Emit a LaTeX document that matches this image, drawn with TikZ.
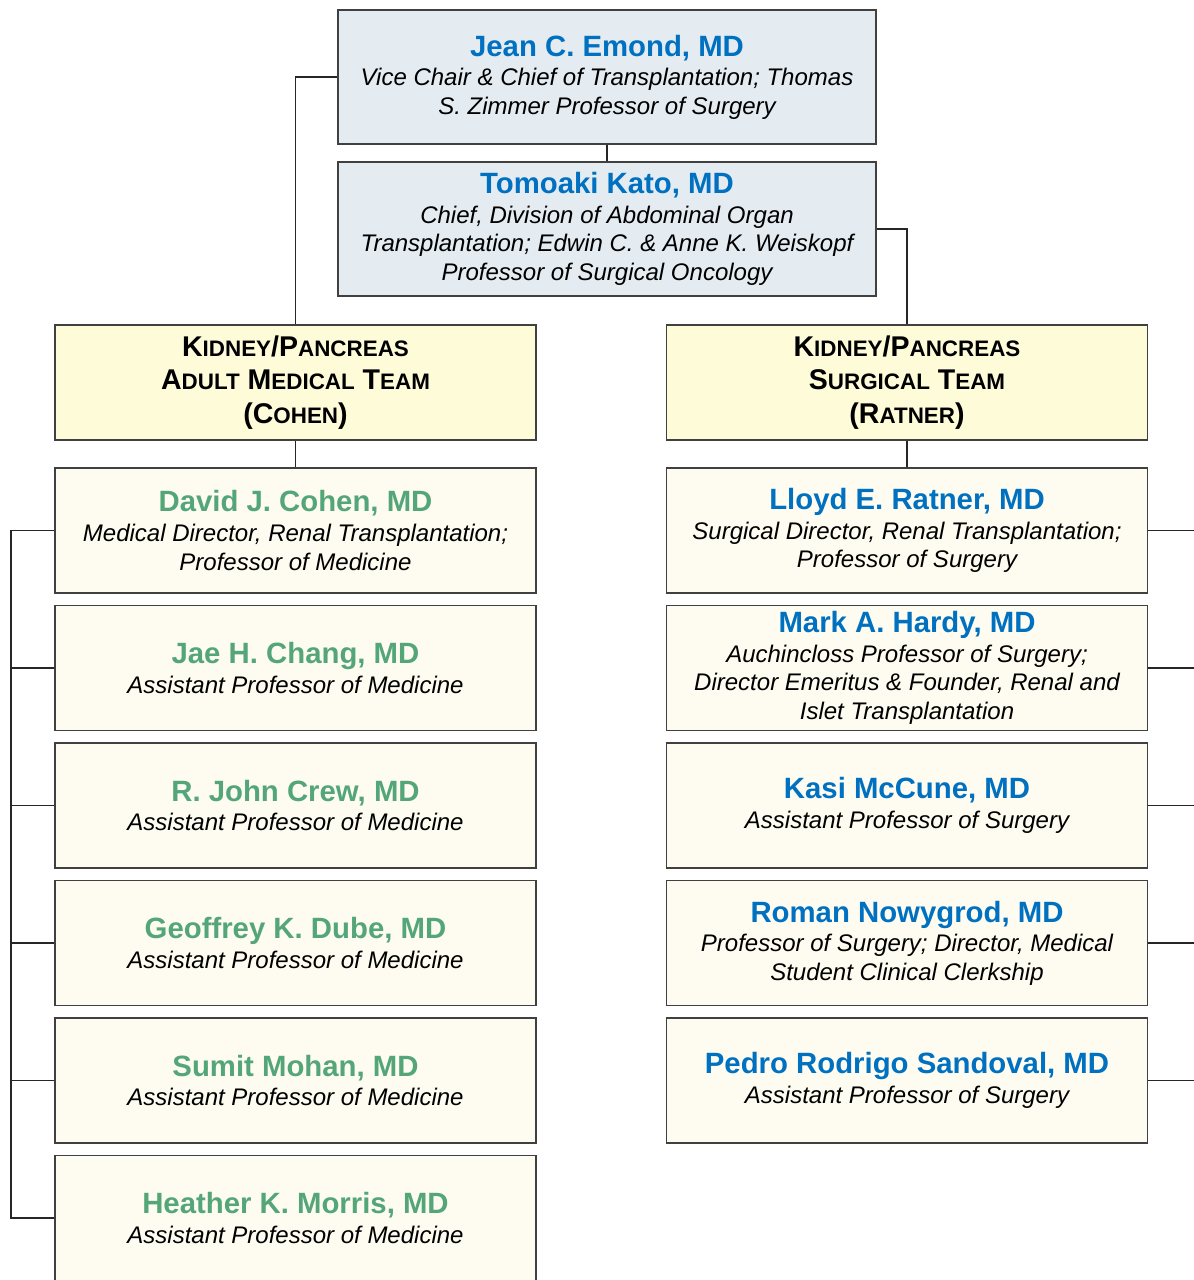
\documentclass[tikz,border=0pt]{standalone}
\usepackage{fontspec}
\setmainfont{Liberation Sans}
\usepackage{xcolor}
\usepackage{tikz}
\usetikzlibrary{chains}
\definecolor{nameblue}{RGB}{0,112,192}
\definecolor{namegreen}{RGB}{84,166,120}
\definecolor{chieffill}{RGB}{228,236,242}
\definecolor{teamfill}{RGB}{254,251,216}
\definecolor{memberfill}{RGB}{254,252,240}
\newcommand\namefont{\fontsize{22}{26}\selectfont\bfseries\upshape}
\newcommand\rolefont{\fontsize{18}{21.4}\selectfont\itshape}
\newcommand\sct[1]{{\fontsize{16.8}{25}\selectfont #1}}
\tikzset{
  chiefbox/.style={
    rectangle,
    fill=chieffill,
    draw=black!75, line width=0.8pt,
    minimum width=403.5pt,
    minimum height=100.5pt,
    inner sep=2pt,
    align=center,
    font=\rolefont},
  teambox/.style={
    rectangle,
    fill=teamfill,
    draw=black!75, line width=0.8pt,
    minimum width=360.75pt,
    minimum height=86.25pt,
    inner sep=2pt,
    align=center,
    font=\fontsize{21.4}{25}\selectfont\bfseries},
  member/.style={
    rectangle,
    fill=memberfill,
    draw=black!75, line width=0.8pt,
    minimum width=360.75pt,
    minimum height=93.75pt,
    inner sep=2pt,
    align=center,
    font=\rolefont,
    on chain},
  line/.style={draw, line width=0.8pt, black!85},
}

\begin{document}
\begin{tikzpicture}[x=0.75pt, y=-0.75pt, node distance=8.575pt]
  \useasboundingbox (0,0) rectangle (1194,1280);
  % chiefs
  \node[chiefbox] (Emond) at (607,77) {{\namefont\color{nameblue}Jean C. Emond, MD}\\[0.8pt]
    Vice Chair \& Chief of Transplantation; Thomas\\S. Zimmer Professor of Surgery};
  \node[chiefbox] (Kato) at (607,229) {{\namefont\color{nameblue}Tomoaki Kato, MD}\\[0.8pt]
    Chief, Division of Abdominal Organ\\Transplantation; Edwin C. \& Anne K. Weiskopf\\Professor of Surgical Oncology};
  % teams
  \node[teambox] (MedTeam) at (295.5,382.5) {K\sct{IDNEY}/P\sct{ANCREAS}\\A\sct{DULT} M\sct{EDICAL} T\sct{EAM}\\(C\sct{OHEN})};
  \node[teambox] (SurgTeam) at (907,382.5) {K\sct{IDNEY}/P\sct{ANCREAS}\\S\sct{URGICAL} T\sct{EAM}\\(R\sct{ATNER})};
  % medical team
  \begin{scope}[start chain=med going below]
    \node[member, at={(295.5,530.5)}] (Cohen) {{\namefont\color{namegreen}David J. Cohen, MD}\\[0.8pt]
      Medical Director, Renal Transplantation;\\Professor of Medicine};
    \node[member] (Chang)  {{\namefont\color{namegreen}Jae H. Chang, MD}\\[0.8pt]Assistant Professor of Medicine};
    \node[member] (Crew)   {{\namefont\color{namegreen}R. John Crew, MD}\\[0.8pt]Assistant Professor of Medicine};
    \node[member] (Dube)   {{\namefont\color{namegreen}Geoffrey K. Dube, MD}\\[0.8pt]Assistant Professor of Medicine};
    \node[member] (Mohan)  {{\namefont\color{namegreen}Sumit Mohan, MD}\\[0.8pt]Assistant Professor of Medicine};
    \node[member] (Morris) {{\namefont\color{namegreen}Heather K. Morris, MD}\\[0.8pt]Assistant Professor of Medicine};
  \end{scope}
  % surgical team
  \begin{scope}[start chain=surg going below]
    \node[member, at={(907,530.5)}] (Ratner) {{\namefont\color{nameblue}Lloyd E. Ratner, MD}\\[0.8pt]
      Surgical Director, Renal Transplantation;\\Professor of Surgery};
    \node[member] (Hardy)    {{\namefont\color{nameblue}Mark A. Hardy, MD}\\[0.8pt]
      Auchincloss Professor of Surgery;\\Director Emeritus \& Founder, Renal and\\Islet Transplantation};
    \node[member] (McCune)   {{\namefont\color{nameblue}Kasi McCune, MD}\\[0.8pt]Assistant Professor of Surgery};
    \node[member] (Nowygrod) {{\namefont\color{nameblue}Roman Nowygrod, MD}\\[0.8pt]
      Professor of Surgery; Director, Medical\\Student Clinical Clerkship};
    \node[member] (Sandoval) {{\namefont\color{nameblue}Pedro Rodrigo Sandoval, MD}\\[0.8pt]Assistant Professor of Surgery};
  \end{scope}
  \coordinate (medbus) at (11,0);
  \coordinate (surgbus) at (1194,0);
  % connectors
  \path[line] (Emond.south) -- (Kato.north);
  \path[line] (Emond.west) -| (MedTeam.north);
  \path[line] (Kato.east) -| (SurgTeam.north);
  \path[line] (MedTeam.south) -- (Cohen.north);
  \path[line] (SurgTeam.south) -- (Ratner.north);
  \path[line] (Cohen.west) -- (Cohen.west -| medbus) |- (Morris.west);
  \path[line] (Chang.west) -- (Chang.west -| medbus);
  \path[line] (Crew.west) -- (Crew.west -| medbus);
  \path[line] (Dube.west) -- (Dube.west -| medbus);
  \path[line] (Mohan.west) -- (Mohan.west -| medbus);
  \path[line] (Ratner.east) -- (Ratner.east -| surgbus);
  \path[line] (Hardy.east) -- (Hardy.east -| surgbus);
  \path[line] (McCune.east) -- (McCune.east -| surgbus);
  \path[line] (Nowygrod.east) -- (Nowygrod.east -| surgbus);
  \path[line] (Sandoval.east) -- (Sandoval.east -| surgbus);
\end{tikzpicture}
\end{document}
